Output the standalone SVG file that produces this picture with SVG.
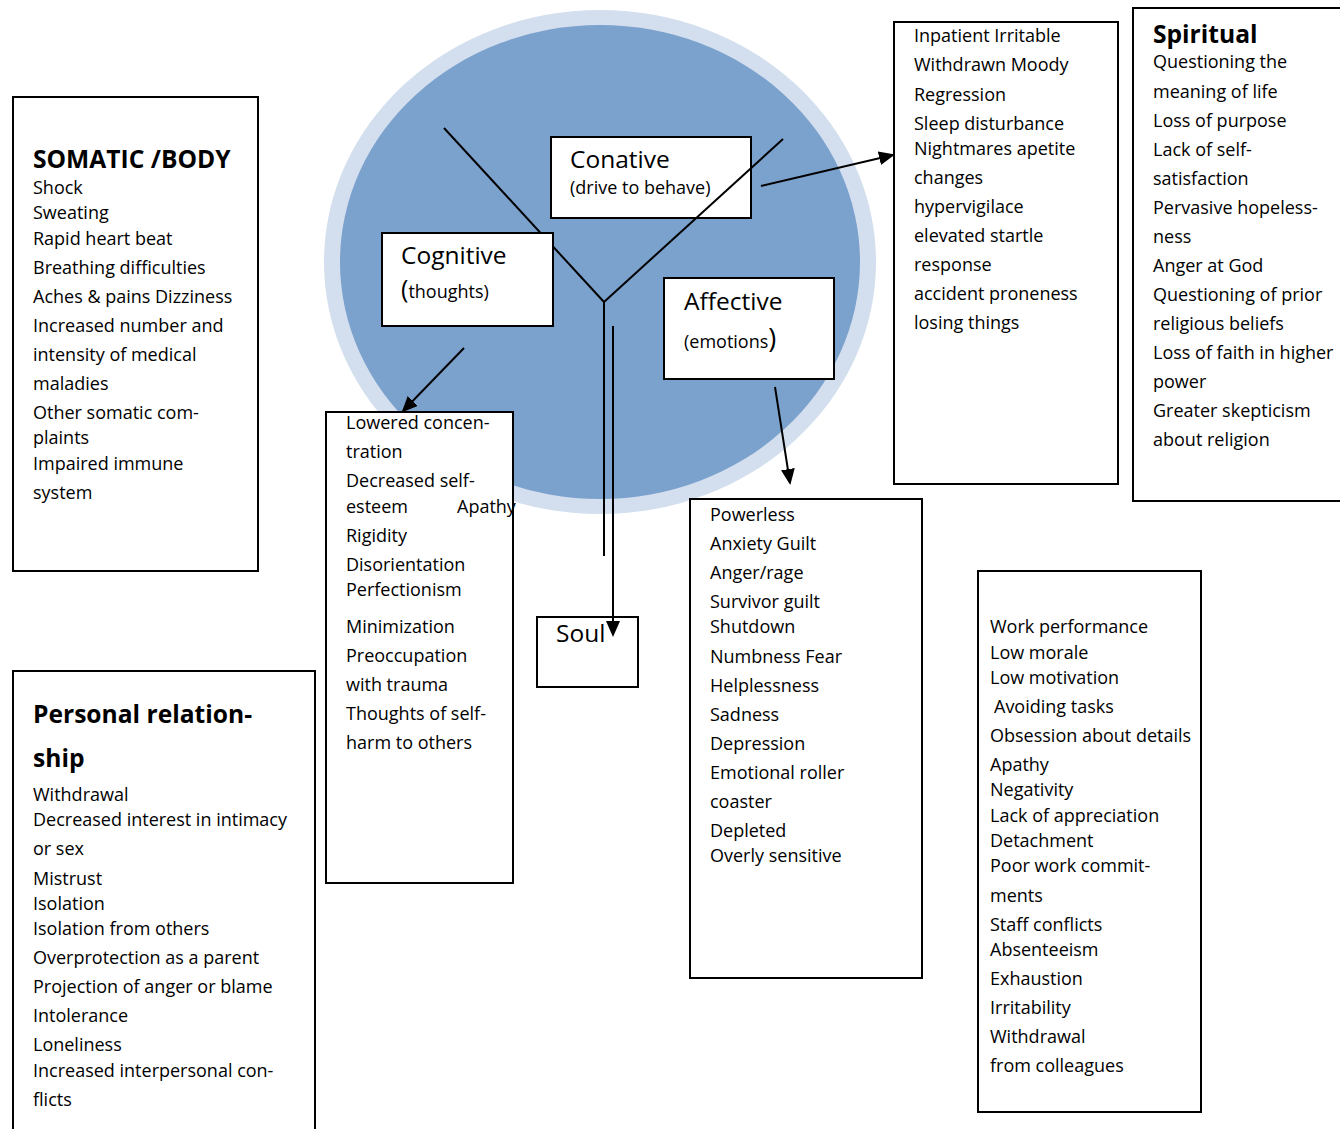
<svg xmlns="http://www.w3.org/2000/svg" width="1340" height="1129" viewBox="0 0 1340 1129">
<style>
.box{fill:#fff;stroke:#000;stroke-width:2}
.t{font-family:"Open Sans","Liberation Sans",sans-serif;font-size:18px;fill:#000}
.h{font-family:"Open Sans","Liberation Sans",sans-serif;font-size:24.6px;font-weight:bold;fill:#000}
.n{font-family:"Open Sans","Liberation Sans",sans-serif;font-size:24.5px;fill:#000}
.ln{stroke:#000;stroke-width:2;fill:none}
</style>
<defs>
<marker id="ah" markerWidth="16" markerHeight="14" refX="14" refY="7" orient="auto" markerUnits="userSpaceOnUse">
<path d="M0,0 L16,7 L0,14 Z" fill="#000"/>
</marker>
</defs>
<rect width="1340" height="1129" fill="#fff"/>
<g id="circle">
<ellipse cx="600" cy="262" rx="276" ry="252" fill="#d3dfee"/>
<ellipse cx="600" cy="262" rx="260" ry="237" fill="#7ba1cd"/>
</g>
<g id="connectors-back">
<line class="ln" x1="444" y1="128" x2="604" y2="302"/>
</g>
<g id="conative">
<rect class="box" x="551" y="137" width="200" height="81"/>
<text class="n" x="570" y="168">Conative</text>
<text class="t" x="570" y="194">(drive to behave)</text>
</g>
<g id="cognitive">
<rect class="box" x="382" y="233" width="171" height="93"/>
<text class="n" x="401" y="264">Cognitive</text>
<text class="t" x="401" y="298"><tspan font-size="25">(</tspan>thoughts)</text>
</g>
<g id="affective">
<rect class="box" x="664" y="278" width="170" height="101"/>
<text class="n" x="684" y="310" font-size="27.5">Affective</text>
<text class="t" x="684" y="348">(emotions<tspan font-size="27">)</tspan></text>
</g>
<g id="somatic">
<rect class="box" x="13" y="97" width="245" height="474"/>
<text class="h" x="33" y="168">SOMATIC /BODY</text>
<text class="t" x="33" y="194">Shock</text>
<text class="t" x="33" y="219">Sweating</text>
<text class="t" x="33" y="245">Rapid heart beat</text>
<text class="t" x="33" y="274">Breathing difficulties</text>
<text class="t" x="33" y="303">Aches &amp; pains Dizziness</text>
<text class="t" x="33" y="332">Increased number and</text>
<text class="t" x="33" y="361">intensity of medical</text>
<text class="t" x="33" y="390">maladies</text>
<text class="t" x="33" y="419">Other somatic com-</text>
<text class="t" x="33" y="444">plaints</text>
<text class="t" x="33" y="470">Impaired immune</text>
<text class="t" x="33" y="499">system</text>
</g>
<g id="cognitive-list">
<rect class="box" x="326" y="412" width="187" height="471"/>
<text class="t" x="346" y="429">Lowered concen-</text>
<text class="t" x="346" y="458">tration</text>
<text class="t" x="346" y="487">Decreased self-</text>
<text class="t" x="346" y="513">esteem</text>
<text class="t" x="457" y="513">Apathy</text>
<text class="t" x="346" y="542">Rigidity</text>
<text class="t" x="346" y="571">Disorientation</text>
<text class="t" x="346" y="596">Perfectionism</text>
<text class="t" x="346" y="633">Minimization</text>
<text class="t" x="346" y="662">Preoccupation</text>
<text class="t" x="346" y="691">with trauma</text>
<text class="t" x="346" y="720">Thoughts of self-</text>
<text class="t" x="346" y="749">harm to others</text>
</g>
<g id="soul">
<rect class="box" x="537" y="617" width="101" height="70"/>
<text class="n" x="556" y="642">Soul</text>
</g>
<g id="conative-list">
<rect class="box" x="894" y="22" width="224" height="462"/>
<text class="t" x="914" y="42">Inpatient Irritable</text>
<text class="t" x="914" y="71">Withdrawn Moody</text>
<text class="t" x="914" y="101">Regression</text>
<text class="t" x="914" y="130">Sleep disturbance</text>
<text class="t" x="914" y="155">Nightmares apetite</text>
<text class="t" x="914" y="184">changes</text>
<text class="t" x="914" y="213">hypervigilace</text>
<text class="t" x="914" y="242">elevated startle</text>
<text class="t" x="914" y="271">response</text>
<text class="t" x="914" y="300">accident proneness</text>
<text class="t" x="914" y="329">losing things</text>
</g>
<g id="spiritual">
<rect class="box" x="1133" y="8" width="212" height="493"/>
<text class="h" x="1153" y="43" font-size="25.5">Spiritual</text>
<text class="t" x="1153" y="68">Questioning the</text>
<text class="t" x="1153" y="98">meaning of life</text>
<text class="t" x="1153" y="127">Loss of purpose</text>
<text class="t" x="1153" y="156">Lack of self-</text>
<text class="t" x="1153" y="185">satisfaction</text>
<text class="t" x="1153" y="214">Pervasive hopeless-</text>
<text class="t" x="1153" y="243">ness</text>
<text class="t" x="1153" y="272">Anger at God</text>
<text class="t" x="1153" y="301">Questioning of prior</text>
<text class="t" x="1153" y="330">religious beliefs</text>
<text class="t" x="1153" y="359">Loss of faith in higher</text>
<text class="t" x="1153" y="388">power</text>
<text class="t" x="1153" y="417">Greater skepticism</text>
<text class="t" x="1153" y="446">about religion</text>
</g>
<g id="affective-list">
<rect class="box" x="690" y="499" width="232" height="479"/>
<text class="t" x="710" y="521">Powerless</text>
<text class="t" x="710" y="550">Anxiety Guilt</text>
<text class="t" x="710" y="579">Anger/rage</text>
<text class="t" x="710" y="608">Survivor guilt</text>
<text class="t" x="710" y="633">Shutdown</text>
<text class="t" x="710" y="663">Numbness Fear</text>
<text class="t" x="710" y="692">Helplessness</text>
<text class="t" x="710" y="721">Sadness</text>
<text class="t" x="710" y="750">Depression</text>
<text class="t" x="710" y="779">Emotional roller</text>
<text class="t" x="710" y="808">coaster</text>
<text class="t" x="710" y="837">Depleted</text>
<text class="t" x="710" y="862">Overly sensitive</text>
</g>
<g id="personal">
<rect class="box" x="13" y="671" width="302" height="470"/>
<text class="h" x="33" y="723" font-size="28.6">Personal relation-</text>
<text class="h" x="33" y="767" font-size="28.6">ship</text>
<text class="t" x="33" y="801">Withdrawal</text>
<text class="t" x="33" y="826">Decreased interest in intimacy</text>
<text class="t" x="33" y="855">or sex</text>
<text class="t" x="33" y="885">Mistrust</text>
<text class="t" x="33" y="910">Isolation</text>
<text class="t" x="33" y="935">Isolation from others</text>
<text class="t" x="33" y="964">Overprotection as a parent</text>
<text class="t" x="33" y="993">Projection of anger or blame</text>
<text class="t" x="33" y="1022">Intolerance</text>
<text class="t" x="33" y="1051">Loneliness</text>
<text class="t" x="33" y="1077">Increased interpersonal con-</text>
<text class="t" x="33" y="1106">flicts</text>
</g>
<g id="work">
<rect class="box" x="978" y="571" width="223" height="541"/>
<text class="t" x="990" y="633">Work performance</text>
<text class="t" x="990" y="659">Low morale</text>
<text class="t" x="990" y="684">Low motivation</text>
<text class="t" x="994" y="713">Avoiding tasks</text>
<text class="t" x="990" y="742">Obsession about details</text>
<text class="t" x="990" y="771">Apathy</text>
<text class="t" x="990" y="796">Negativity</text>
<text class="t" x="990" y="822">Lack of appreciation</text>
<text class="t" x="990" y="847">Detachment</text>
<text class="t" x="990" y="872">Poor work commit-</text>
<text class="t" x="990" y="902">ments</text>
<text class="t" x="990" y="931">Staff conflicts</text>
<text class="t" x="990" y="956">Absenteeism</text>
<text class="t" x="990" y="985">Exhaustion</text>
<text class="t" x="990" y="1014">Irritability</text>
<text class="t" x="990" y="1043">Withdrawal</text>
<text class="t" x="990" y="1072">from colleagues</text>
</g>
<g id="connectors">
<line class="ln" x1="783" y1="139" x2="604" y2="302"/>
<line class="ln" x1="604" y1="302" x2="604" y2="556"/>
<line class="ln" x1="613" y1="326" x2="613" y2="635" marker-end="url(#ah)"/>
<line class="ln" x1="761" y1="186" x2="893" y2="155" marker-end="url(#ah)"/>
<line class="ln" x1="464" y1="348" x2="403" y2="411" marker-end="url(#ah)"/>
<line class="ln" x1="775" y1="387" x2="790" y2="483" marker-end="url(#ah)"/>
</g>
</svg>
